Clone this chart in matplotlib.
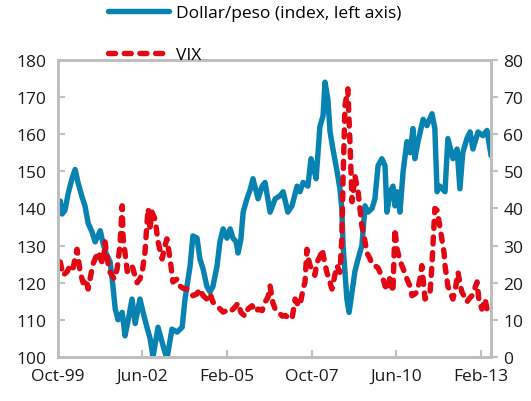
import pandas as pd
import matplotlib.pyplot as plt
import matplotlib.ticker as mticker

plt.rcParams['font.family'] = ['Open Sans', 'DejaVu Sans']

# dollar/peso index (left axis), dates as decimal years
fx_t = [1999.83, 1999.89, 1999.98, 2000.08, 2000.20, 2000.30, 2000.39, 2000.52, 2000.61, 2000.71,
        2000.83, 2000.93, 2001.09, 2001.18, 2001.27, 2001.40, 2001.49, 2001.56, 2001.65, 2001.78,
        2001.87, 2001.97, 2002.09, 2002.19, 2002.34, 2002.44, 2002.56, 2002.66, 2002.75, 2002.91,
        2003.07, 2003.19, 2003.35, 2003.51, 2003.67, 2003.76, 2003.92, 2004.01, 2004.14, 2004.23,
        2004.33, 2004.45, 2004.55, 2004.64, 2004.77, 2004.86, 2004.96, 2005.08, 2005.18, 2005.27,
        2005.37, 2005.43, 2005.52, 2005.59, 2005.71, 2005.81, 2005.90, 2006.06, 2006.19, 2006.28,
        2006.44, 2006.60, 2006.75, 2006.85, 2007.00, 2007.13, 2007.29, 2007.38, 2007.48, 2007.63,
        2007.73, 2007.79, 2007.89, 2008.01, 2008.11, 2008.17, 2008.26, 2008.33, 2008.42, 2008.55,
        2008.64, 2008.70, 2008.74, 2008.80, 2008.86, 2008.93, 2009.02, 2009.11, 2009.21, 2009.33,
        2009.43, 2009.52, 2009.65, 2009.74, 2009.84, 2009.96, 2010.06, 2010.12, 2010.22, 2010.31,
        2010.37, 2010.44, 2010.53, 2010.63, 2010.75, 2010.85, 2010.94, 2011.00, 2011.10, 2011.26,
        2011.38, 2011.54, 2011.63, 2011.70, 2011.79, 2011.95, 2012.04, 2012.20, 2012.33, 2012.42,
        2012.51, 2012.64, 2012.74, 2012.83, 2012.99, 2013.14, 2013.27, 2013.40]
fx_val = [142, 138.5, 139.5, 144, 148, 150.5, 147, 143, 140.7, 136,
          133.7, 131, 134, 130.5, 128, 125.6, 119, 113, 110, 112,
          105.7, 110, 115.6, 109, 115.6, 112, 108, 105, 100, 108,
          103, 99.5, 107.5, 106.7, 108, 115.6, 124.5, 132.6, 132, 126.4,
          123.7, 119, 117.5, 119, 124.5, 131, 134.5, 132, 134.5, 132,
          131, 128, 131.8, 139, 142.6, 145, 148, 142.6, 146, 147,
          139, 142.6, 143.4, 144.5, 139, 140.7, 146, 144.5, 147, 146,
          153.4, 151.5, 148, 162, 165, 174, 169.5, 160.6, 156, 150,
          145.3, 140, 130, 123, 115.6, 112, 117.5, 123, 126.4, 130,
          140.7, 139, 140, 142.6, 151.5, 153.4, 151.5, 139, 144.5, 146,
          140.7, 144.5, 139, 150, 158, 155, 161.5, 153.4, 158, 164,
          162.3, 165.5, 161.5, 144.5, 146, 144.5, 158.8, 153.4, 156, 145.3,
          155, 158.8, 160.6, 156, 160.6, 159.6, 161, 154.2]

# VIX (right axis)
vix_t = [1999.83, 1999.92, 2000.05, 2000.14, 2000.23, 2000.36, 2000.46, 2000.55, 2000.64, 2000.71,
         2000.86, 2001.02, 2001.12, 2001.18, 2001.24, 2001.34, 2001.40, 2001.53, 2001.62, 2001.71,
         2001.78, 2001.81, 2001.87, 2001.94, 2002.09, 2002.25, 2002.34, 2002.41, 2002.50, 2002.56,
         2002.60, 2002.66, 2002.72, 2002.82, 2002.91, 2003.04, 2003.13, 2003.19, 2003.29, 2003.38,
         2003.51, 2003.60, 2003.70, 2003.82, 2003.92, 2004.01, 2004.14, 2004.23, 2004.33, 2004.45,
         2004.55, 2004.64, 2004.80, 2004.96, 2005.08, 2005.18, 2005.34, 2005.43, 2005.52, 2005.65,
         2005.75, 2005.87, 2006.00, 2006.06, 2006.19, 2006.28, 2006.37, 2006.44, 2006.53, 2006.60,
         2006.72, 2006.82, 2006.91, 2007.00, 2007.13, 2007.23, 2007.32, 2007.38, 2007.48, 2007.54,
         2007.60, 2007.63, 2007.70, 2007.76, 2007.85, 2007.92, 2008.01, 2008.08, 2008.17, 2008.23,
         2008.33, 2008.39, 2008.48, 2008.55, 2008.64, 2008.70, 2008.74, 2008.80, 2008.89, 2008.96,
         2009.02, 2009.11, 2009.21, 2009.27, 2009.33, 2009.43, 2009.49, 2009.59, 2009.65, 2009.74,
         2009.84, 2009.90, 2010.00, 2010.06, 2010.15, 2010.22, 2010.31, 2010.37, 2010.44, 2010.53,
         2010.59, 2010.69, 2010.75, 2010.85, 2010.91, 2011.00, 2011.07, 2011.16, 2011.22, 2011.32,
         2011.41, 2011.48, 2011.54, 2011.57, 2011.63, 2011.70, 2011.73, 2011.79, 2011.85, 2011.92,
         2011.95, 2012.04, 2012.11, 2012.20, 2012.29, 2012.36, 2012.42, 2012.48, 2012.58, 2012.64,
         2012.74, 2012.80, 2012.89, 2012.96, 2013.02, 2013.11, 2013.21, 2013.27, 2013.37]
vix_val = [25.6, 22, 23, 24.6, 23.7, 29, 22.8, 20, 21, 18.3,
           25, 28.3, 26, 25, 31, 25, 22.8, 21, 23.7, 30,
           40.7, 32, 28, 23, 24.6, 20, 21, 22.8, 28.3, 36,
           40, 35, 39, 37, 31, 26.4, 30, 31.8, 26.4, 20.2,
           21, 19.1, 18.5, 18.3, 17.5, 16.5, 17, 18.3, 16.5, 15.6,
           17, 14.8, 13.5, 12.1, 12.5, 12.1, 13.5, 14.5, 12, 11,
           13, 13.8, 12.1, 12.9, 12.5, 14.8, 16, 19.1, 14.5, 12.9,
           12, 11, 11.2, 10.7, 10.2, 15.6, 14, 13.8, 18.3, 20.2,
           29, 27, 24.6, 23.7, 22, 25.6, 27, 29, 25, 22.8,
           20, 18.3, 22, 24.6, 22.8, 31.8, 48, 67.7, 72.2, 57,
           41.8, 48.8, 44.5, 40, 35.3, 31, 28, 26.4, 25, 24.6,
           24, 22.8, 21, 19.1, 18, 21.9, 17.5, 34.5, 29, 26,
           24.6, 22.5, 21, 19, 16.5, 17, 17.5, 21, 24.6, 15.6,
           16.5, 17.5, 25, 30, 40, 39.5, 38, 35, 31.8, 28,
           24.6, 19.1, 17.5, 15.6, 19, 22.8, 20, 17.5, 16, 14.8,
           16, 16.5, 18.5, 20.2, 15, 12.9, 15.6, 13, 13.8]

tick_labels = ['Oct-99', 'Jun-02', 'Feb-05', 'Oct-07', 'Jun-10', 'Feb-13']
tick_dates = ['1999-10-01', '2002-06-01', '2005-02-01', '2007-10-01', '2010-06-01', '2013-02-01']


def to_date(years):
    out = []
    for y in years:
        yr = int(y)
        out.append(pd.Timestamp(yr, 1, 1) + pd.Timedelta(days=(y - yr) * 365.25))
    return out


blue = '#0882B0'
red = '#E30613'
grey = '#BFBFBF'

fig = plt.figure(figsize=(5.31, 4.02), dpi=100)
ax = fig.add_axes([0.1085, 0.1095, 0.816, 0.739])
ax2 = ax.twinx()

l1, = ax.plot(to_date(fx_t), fx_val, color=blue, lw=3.9, solid_capstyle='round',
              solid_joinstyle='round', label='Dollar/peso (index, left axis)')
l2, = ax2.plot(to_date(vix_t), vix_val, color=red, lw=3.9, dash_capstyle='round',
               dash_joinstyle='round', dashes=(1.3, 1.6), label='VIX')

ax.set_ylim(100, 180)
ax2.set_ylim(0, 80)
ax.yaxis.set_major_locator(mticker.MultipleLocator(10))
ax2.yaxis.set_major_locator(mticker.MultipleLocator(10))
ax.set_xlim(pd.Timestamp('1999-10-01'), pd.Timestamp('2013-05-25'))
ax.set_xticks(pd.to_datetime(tick_dates))
ax.set_xticklabels(tick_labels)

for a in (ax, ax2):
    for s in a.spines.values():
        s.set_color(grey)
        s.set_linewidth(2)
ax.tick_params(axis='y', direction='in', length=5, width=1.5, color=grey, labelsize=12.5, pad=8, labelcolor='#1a1a1a')
ax.tick_params(axis='x', direction='in', length=5, width=1.5, color=grey, labelsize=12.5, pad=8, labelcolor='#1a1a1a')
ax2.tick_params(axis='y', direction='out', length=5, width=1.5, color=grey, labelsize=12.5, pad=4, labelcolor='#1a1a1a')

fig.legend(handles=[l1, l2], loc='upper left', bbox_to_anchor=(108 / 531, 1 - 6 / 402),
           frameon=False, fontsize=12.5, handlelength=3.5, handletextpad=0.4,
           labelspacing=1.5, borderpad=0, borderaxespad=0)

fig.savefig('out.png', dpi=100)
